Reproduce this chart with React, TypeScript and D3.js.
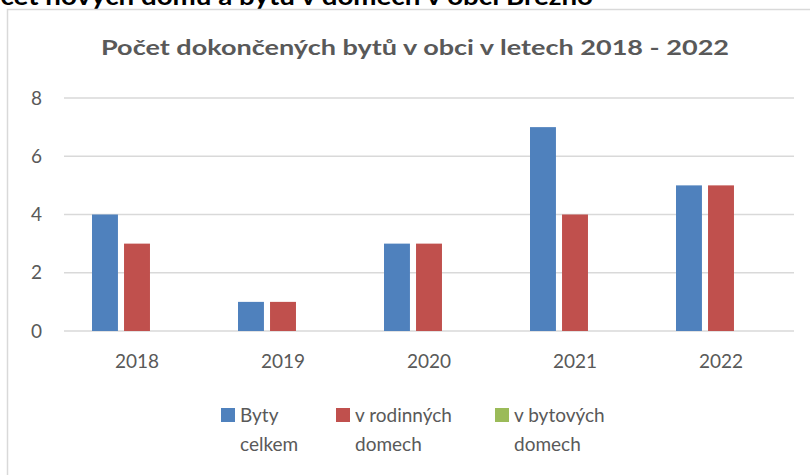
import React from "react";
import * as d3 from "d3";

const years = ["2018", "2019", "2020", "2021", "2022"];
const seriesNames = ["Byty celkem", "v rodinných domech", "v bytových domech"];
const bytyCelkem = [4, 1, 3, 7, 5];
const vRodinnych = [3, 1, 3, 4, 5];
const vBytovych = [0, 0, 0, 0, 0];
const yTicks = [0, 2, 4, 6, 8];
const colors = ["#4F81BD", "#C0504D", "#9BBB59"];

const W = 810;
const H = 475;
const plot = { left: 64, right: 794, top: 98, bottom: 331 };
const font = "Lato, 'Open Sans', sans-serif";
const textColor = "#595959";

export default function App() {
  const series = [bytyCelkem, vRodinnych, vBytovych];

  const x0 = d3.scaleBand().domain(years).range([plot.left, plot.right]).paddingInner(0).paddingOuter(0);
  const inner = d3
    .scaleBand()
    .domain(seriesNames)
    .range([28, x0.bandwidth() - 28])
    .paddingInner(0.19);
  const y = d3.scaleLinear().domain([0, 8]).range([plot.bottom, plot.top]);

  // legend: square then two-line label
  const legendX = [221, 336, 495];

  return (
    <svg
      width={W}
      height={H}
      style={{ position: "fixed", left: 0, top: 0, background: "#fff" }}
      fontFamily={font}
    >
      <rect x={0} y={0} width={W} height={H} fill="#fff" />
      {/* page heading above the chart, cut off by the crop */}
      <text x={593} y={5} textAnchor="end" fontSize={24} fontWeight="bold" fill="#000"
        fontFamily="Lato, 'Open Sans', sans-serif" textLength={625} lengthAdjust="spacingAndGlyphs">
        Počet nových domů a bytů v domech v obci Březno
      </text>
      <rect x={7.5} y={9.5} width={830} height={500} fill="#fff" stroke="#D9D9D9" strokeWidth={1.5} />

      <text x={415} y={55} textAnchor="middle" fontSize={21} fontWeight="bold" fill={textColor} textLength={628} lengthAdjust="spacingAndGlyphs">
        Počet dokončených bytů v obci v letech 2018 - 2022
      </text>

      {yTicks.map((t) => (
        <g key={t}>
          <line x1={plot.left} x2={plot.right} y1={y(t)} y2={y(t)} stroke="#D9D9D9" strokeWidth={1.5} />
          <text x={42} y={y(t)} dy="0.35em" textAnchor="end" fontSize={19} fill={textColor}>
            {t}
          </text>
        </g>
      ))}

      {years.map((yr, i) => (
        <g key={yr} transform={`translate(${x0(yr)},0)`}>
          {series.map((vals, s) => {
            const v = vals[i];
            if (!v) return null;
            return (
              <rect
                key={s}
                x={inner(seriesNames[s])}
                y={y(v)}
                width={inner.bandwidth()}
                height={y(0) - y(v)}
                fill={colors[s]}
              />
            );
          })}
          <text x={x0.bandwidth() / 2} y={368} textAnchor="middle" fontSize={19} fill={textColor}>
            {yr}
          </text>
        </g>
      ))}

      {seriesNames.map((name, s) => {
        const words = name.split(" ");
        const line1 = words.length > 2 ? words.slice(0, 2).join(" ") : words[0];
        const line2 = words.length > 2 ? words.slice(2).join(" ") : words.slice(1).join(" ");
        return (
          <g key={name} transform={`translate(${legendX[s]},0)`}>
            <rect x={0} y={408} width={14} height={14} fill={colors[s]} />
            <text x={19} y={422} fontSize={19} fill={textColor}>
              {line1}
            </text>
            <text x={19} y={451} fontSize={19} fill={textColor}>
              {line2}
            </text>
          </g>
        );
      })}
    </svg>
  );
}
